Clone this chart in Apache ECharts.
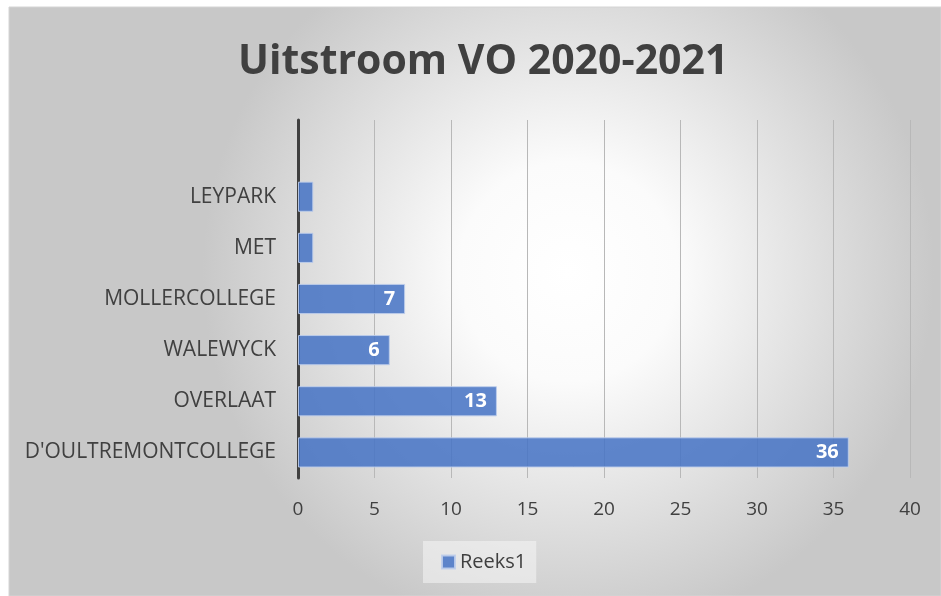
<!DOCTYPE html>
<html>
<head>
<meta charset="utf-8">
<script src="https://cdn.jsdelivr.net/npm/echarts@6/dist/echarts.min.js"></script>
<style>
html,body{margin:0;padding:0;background:#fff;}
#c{width:941px;height:596px;}
</style>
</head>
<body>
<div id="c"></div>
<script>
const categories = ["D'OULTREMONTCOLLEGE", "OVERLAAT", "WALEWYCK", "MOLLERCOLLEGE", "MET", "LEYPARK", ""];
const values = [36, 13, 6, 7, 1, 1, null];
const seriesName = "Reeks1";
const titleText = "Uitstroom VO 2020-2021";
const xTicks = { min: 0, max: 40, interval: 5 };

const chart = echarts.init(document.getElementById('c'), null, { renderer: 'canvas' });
const FONT = "'Open Sans', 'Noto Sans', sans-serif";
chart.setOption({
  animation: false,
  graphic: [{
    type: 'rect', z: -10, silent: true,
    shape: { x: 9, y: 7, width: 932, height: 589 },
    style: {
      fill: new echarts.graphic.RadialGradient(0.6, 0.45, 0.62, [
        { offset: 0, color: '#ffffff' },
        { offset: 0.3, color: '#fbfbfb' },
        { offset: 1, color: '#c8c8c8' }
      ]),
      stroke: '#d4d4d4', lineWidth: 1
    }
  }],
  title: {
    text: titleText, left: 233, top: 37,
    textStyle: { fontFamily: FONT, fontWeight: 'bold', fontSize: 41, color: '#404040' }
  },
  legend: {
    data: [seriesName], bottom: 13, left: 423,
    backgroundColor: 'rgba(245,245,245,0.55)',
    padding: [11, 10, 11, 18], itemWidth: 13, itemHeight: 13, icon: 'rect',
    textStyle: { fontFamily: FONT, fontSize: 20, color: '#404040' }
  },
  grid: { left: 298, right: 31, top: 120, bottom: 118, containLabel: false },
  xAxis: {
    type: 'value', min: xTicks.min, max: xTicks.max, interval: xTicks.interval,
    axisLine: { show: false }, axisTick: { show: false },
    axisLabel: { fontFamily: FONT, fontSize: 19, color: '#404040', margin: 22 },
    splitLine: { lineStyle: { color: '#b8b8b8', width: 1 } }
  },
  yAxis: {
    type: 'category', data: categories,
    axisLine: { lineStyle: { color: '#404040', width: 3 } },
    axisTick: { show: false },
    axisLabel: { fontFamily: FONT, fontSize: 21, color: '#404040', margin: 22 }
  },
  series: [{
    name: seriesName, type: 'bar', data: values,
    barCategoryGap: '41%',
    itemStyle: { color: 'rgba(68,114,196,0.85)', borderColor: 'rgba(190,205,235,0.9)', borderWidth: 1 },
    label: {
      show: true, position: 'insideRight', distance: 10,
      fontFamily: FONT, fontSize: 20, fontWeight: 'bold', color: '#ffffff',
      formatter: p => (p.value > 1 ? p.value : '')
    }
  }]
});
</script>
</body>
</html>
